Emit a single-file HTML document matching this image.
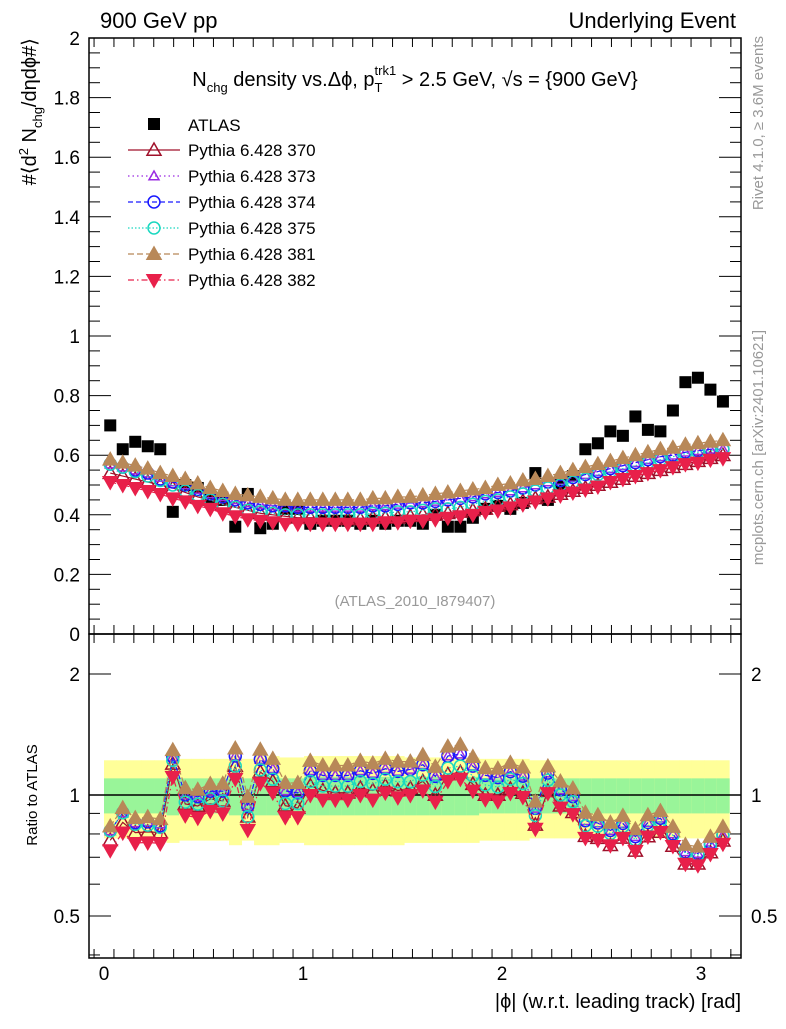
<!DOCTYPE html>
<html><head><meta charset="utf-8"><style>
body{margin:0;background:#fff;font-family:"Liberation Sans","DejaVu Sans",sans-serif;}
svg text{font-family:"Liberation Sans","DejaVu Sans",sans-serif;}
</style></head><body>
<svg id="c" width="786" height="1024" xmlns="http://www.w3.org/2000/svg"></svg>
<script>
const atlas=[0.70,0.62,0.645,0.63,0.62,0.41,0.50,0.49,0.46,0.45,0.36,0.47,0.355,0.37,0.42,0.42,0.37,0.38,0.38,0.38,0.37,0.38,0.37,0.38,0.38,0.37,0.40,0.36,0.36,0.39,0.42,0.43,0.42,0.44,0.54,0.45,0.50,0.53,0.62,0.64,0.68,0.665,0.73,0.685,0.68,0.75,0.845,0.86,0.82,0.78];
const statErr=[0.10,0.10,0.10,0.10,0.10,0.11,0.10,0.10,0.10,0.10,0.11,0.10,0.11,0.11,0.10,0.10,0.11,0.11,0.11,0.11,0.11,0.11,0.11,0.11,0.11,0.11,0.11,0.11,0.11,0.11,0.10,0.10,0.10,0.10,0.10,0.10,0.10,0.10,0.10,0.10,0.10,0.10,0.10,0.10,0.10,0.10,0.10,0.10,0.10,0.10];
const totErr=[0.22,0.22,0.22,0.22,0.22,0.24,0.23,0.23,0.23,0.23,0.25,0.23,0.25,0.25,0.24,0.24,0.25,0.25,0.25,0.25,0.25,0.25,0.25,0.25,0.24,0.24,0.24,0.24,0.24,0.24,0.23,0.23,0.23,0.23,0.22,0.22,0.22,0.22,0.22,0.22,0.22,0.22,0.22,0.22,0.22,0.22,0.22,0.22,0.22,0.22];
const p370=[0.54,0.53,0.52,0.51,0.50,0.49,0.475,0.46,0.45,0.435,0.425,0.415,0.405,0.40,0.395,0.39,0.39,0.39,0.385,0.385,0.385,0.39,0.39,0.39,0.395,0.40,0.40,0.405,0.41,0.415,0.42,0.43,0.435,0.445,0.455,0.46,0.47,0.48,0.49,0.50,0.51,0.52,0.53,0.54,0.55,0.56,0.57,0.58,0.59,0.60];
const p373=[0.57,0.56,0.55,0.54,0.525,0.51,0.50,0.485,0.47,0.46,0.45,0.44,0.435,0.43,0.43,0.425,0.425,0.425,0.425,0.425,0.425,0.43,0.43,0.435,0.44,0.44,0.445,0.45,0.455,0.46,0.47,0.475,0.48,0.49,0.50,0.51,0.515,0.525,0.535,0.545,0.555,0.565,0.575,0.585,0.595,0.60,0.61,0.615,0.62,0.62];
const p374=[0.57,0.56,0.55,0.54,0.52,0.51,0.50,0.485,0.47,0.46,0.45,0.44,0.435,0.43,0.43,0.425,0.425,0.425,0.425,0.425,0.425,0.43,0.43,0.435,0.44,0.44,0.445,0.45,0.455,0.46,0.47,0.475,0.48,0.49,0.50,0.51,0.515,0.525,0.535,0.545,0.555,0.565,0.575,0.585,0.595,0.60,0.61,0.615,0.62,0.62];
const p375=[0.57,0.56,0.545,0.53,0.515,0.50,0.48,0.465,0.45,0.435,0.425,0.415,0.41,0.405,0.40,0.40,0.40,0.40,0.40,0.40,0.40,0.405,0.405,0.41,0.41,0.415,0.42,0.42,0.425,0.435,0.445,0.45,0.46,0.47,0.48,0.49,0.50,0.51,0.52,0.535,0.545,0.555,0.565,0.575,0.585,0.595,0.605,0.61,0.615,0.62];
const p381=[0.585,0.575,0.565,0.555,0.54,0.53,0.52,0.505,0.49,0.48,0.47,0.465,0.46,0.455,0.45,0.45,0.45,0.45,0.45,0.45,0.45,0.455,0.455,0.46,0.46,0.465,0.47,0.475,0.48,0.485,0.49,0.50,0.505,0.515,0.52,0.53,0.54,0.55,0.56,0.57,0.58,0.59,0.60,0.61,0.62,0.625,0.635,0.64,0.645,0.65];
const p382=[0.51,0.50,0.49,0.48,0.47,0.455,0.445,0.43,0.42,0.405,0.395,0.385,0.38,0.375,0.37,0.37,0.37,0.37,0.37,0.37,0.37,0.37,0.375,0.375,0.38,0.38,0.385,0.39,0.395,0.40,0.41,0.415,0.425,0.435,0.445,0.455,0.465,0.475,0.485,0.495,0.51,0.52,0.53,0.54,0.55,0.56,0.57,0.575,0.585,0.59];
const yTicksMain=[0,0.2,0.4,0.6,0.8,1,1.2,1.4,1.6,1.8,2];
const yTickLabelsMain=["0","0.2","0.4","0.6","0.8","1","1.2","1.4","1.6","1.8","2"];
const xTicks=[0,1,2,3];
const ratioTicks=[0.5,1,2];

const NS="http://www.w3.org/2000/svg";
const svg=document.getElementById('c');
const L=89,R=741,T=38,MB=634,RB=958;
const X=v=>104+v*199;
const Y=v=>634-v*298;
const YR=r=>795-Math.log2(r)*121;
function mk(tag,attrs,parent){const e=document.createElementNS(NS,tag);for(const k in attrs)e.setAttribute(k,attrs[k]);(parent||svg).appendChild(e);return e;}
function txt(s,x,y,size,anchor,fill,parent){const t=mk('text',{x:x,y:y,'font-size':size,'text-anchor':anchor||'start',fill:fill||'#000'},parent);t.textContent=s;return t;}
const n=atlas.length,w=Math.PI/n;
const xc=i=>(i+0.5)*w;

// ratio bands
const bands=mk('g',{});


for(let i=0;i<n;i++){
  const r1=mk('rect',{x:X(i*w),y:YR(1+totErr[i]),width:X((i+1)*w)-X(i*w)+0.5,height:YR(1-totErr[i])-YR(1+totErr[i]),fill:'#ffff99'},bands);
  
  
  const r2=mk('rect',{x:X(i*w),y:YR(1+statErr[i]),width:X((i+1)*w)-X(i*w)+0.5,height:YR(1-statErr[i])-YR(1+statErr[i]),fill:'#99f599'},bands);
  
  
}
mk('line',{x1:L,x2:R,y1:YR(1),y2:YR(1),stroke:'#000','stroke-width':1.5});

// frames
const f1=mk('rect',{x:L,y:T,width:R-L,height:MB-T,fill:'none',stroke:'#000','stroke-width':1.5});


const f2=mk('rect',{x:L,y:MB,width:R-L,height:RB-MB,fill:'none',stroke:'#000','stroke-width':1.5});



// main y ticks
for(let v=0;v<=2.0001;v+=0.05){const y=Y(v);const major=Math.abs(v*5-Math.round(v*5))<1e-6;const len=major?22:11;
  mk('line',{x1:L,x2:L+len,y1:y,y2:y,stroke:'#000'});mk('line',{x1:R,x2:R-len,y1:y,y2:y,stroke:'#000'});}
yTicksMain.forEach((v,i)=>{const t=txt(yTickLabelsMain[i],80,Y(v)+7,19,'end');
  
  });
[0.4,0.5,0.6,0.7,0.8,0.9,1,2].forEach(v=>{const y=YR(v);const major=(v===0.5||v===1||v===2);const len=major?22:11;
  mk('line',{x1:L,x2:L+len,y1:y,y2:y,stroke:'#000'});mk('line',{x1:R,x2:R-len,y1:y,y2:y,stroke:'#000'});});
ratioTicks.forEach(v=>{
  const a=txt(String(v),80,YR(v)+7,19,'end');
  
  
  const b=txt(String(v),751,YR(v)+7,19,'start');
  
  });
for(let v=-0.05;v<=3.2;v+=0.1){const vv=Math.round(v*100)/100;if(X(vv)<L||X(vv)>R)continue;const major=Math.abs(vv-Math.round(vv))<1e-6;const len=major?18:9;
  [[T,1],[MB,-1],[MB,1],[RB,-1]].forEach(([y0,d])=>mk('line',{x1:X(vv),x2:X(vv),y1:y0,y2:y0+d*len,stroke:'#000'}));}
xTicks.forEach(v=>{const t=txt(String(v),X(v),980,19,'middle');
  
  });

// ATLAS data (drawn first, behind MC)
const ga=mk('g',{});


atlas.forEach((v,i)=>{
  const p=mk('rect',{x:X(xc(i))-6,y:Y(v)-6,width:12,height:12,fill:'#000'},ga);
  
  
});

const series=[
 {d:p370,c:'#a0102a',m:'tri',fill:false,dash:'',name:'pythia-370'},
 {d:p373,c:'#9a2be2',m:'tri',fill:false,dash:'1.5,3',name:'pythia-373',small:true},
 {d:p374,c:'#1a1aff',m:'circ',fill:false,dash:'5,3',name:'pythia-374'},
 {d:p375,c:'#1ad8c0',m:'circ',fill:false,dash:'1.5,2',name:'pythia-375'},
 {d:p381,c:'#b88858',m:'tri',fill:true,dash:'6,3',name:'pythia-381'},
 {d:p382,c:'#e8204a',m:'itri',fill:true,dash:'6,3,1.5,3',name:'pythia-382'}];
function marker(g,m,x,y,c,fill,s){
  let e;
  if(m==='tri')e=mk('polygon',{points:`${x},${y-s} ${x-s},${y+s*0.75} ${x+s},${y+s*0.75}`},g);
  else if(m==='itri')e=mk('polygon',{points:`${x},${y+s} ${x-s},${y-s*0.75} ${x+s},${y-s*0.75}`},g);
  else if(m==='circ')e=mk('circle',{cx:x,cy:y,r:s*0.85},g);
  else e=mk('rect',{x:x-s,y:y-s,width:2*s,height:2*s},g);
  e.setAttribute('fill',fill?c:'none');e.setAttribute('stroke',c);e.setAttribute('stroke-width',1.5);
  return e;
}
series.forEach(s=>{
  const g=mk('g',{});
  
  
  const sz=s.small?5:7;
  const pts=s.d.map((v,i)=>`${X(xc(i))},${Y(v)}`).join(' ');
  mk('polyline',{points:pts,fill:'none',stroke:s.c,'stroke-width':1.2,'stroke-dasharray':s.dash},g);
  const rp=s.d.map((v,i)=>`${X(xc(i))},${YR(v/atlas[i])}`).join(' ');
  mk('polyline',{points:rp,fill:'none',stroke:s.c,'stroke-width':1.2,'stroke-dasharray':s.dash},g);
  s.d.forEach((v,i)=>{
    const p=marker(g,s.m,X(xc(i)),Y(v),s.c,s.fill,sz);
    
    
    const q=marker(g,s.m,X(xc(i)),YR(v/atlas[i]),s.c,s.fill,sz);
    
    
  });
});

// legend
const lg=mk('g',{});


mk('rect',{x:148,y:118,width:12,height:12,fill:'#000'},lg);
txt('ATLAS',188,131,17,'start','#000',lg);
const names=['Pythia 6.428 370','Pythia 6.428 373','Pythia 6.428 374','Pythia 6.428 375','Pythia 6.428 381','Pythia 6.428 382'];
series.forEach((s,k)=>{const y=150+k*26;
  mk('line',{x1:128,x2:180,y1:y,y2:y,stroke:s.c,'stroke-width':1.2,'stroke-dasharray':s.dash},lg);
  marker(lg,s.m,154,y,s.c,s.fill,s.small?5:7);
  const t=txt(names[k],188,y+6,17,'start','#000',lg);
  
  
});

let t;
t=txt('900 GeV pp',100,28,22,'start');
t=txt('Underlying Event',736,28,22,'end');
t=mk('text',{x:415,y:86,'font-size':20,'text-anchor':'middle'});
t.innerHTML='N<tspan font-size="13" dy="6">chg</tspan><tspan dy="-6"> density vs.Δϕ, p</tspan><tspan font-size="13" dy="6">T</tspan><tspan font-size="13" dx="-8" dy="-17">trk1</tspan><tspan dy="11"> &gt; 2.5 GeV, √s = {900 GeV}</tspan>';

t=txt('(ATLAS_2010_I879407)',415,606,15,'middle','#999');
t=mk('text',{x:0,y:0,'font-size':20,'text-anchor':'end',transform:'translate(36,38) rotate(-90)'});
t.innerHTML='#⟨d<tspan font-size="13" dy="-8">2</tspan><tspan dy="8"> N</tspan><tspan font-size="13" dy="6">chg</tspan><tspan dy="-6">/dηdϕ#⟩</tspan>';

t=mk('text',{x:0,y:0,'font-size':15,'text-anchor':'middle',transform:'translate(37,795) rotate(-90)'});t.textContent='Ratio to ATLAS';

t=mk('text',{x:0,y:0,'font-size':15,'text-anchor':'end',fill:'#999',transform:'translate(763,36) rotate(-90)'});t.textContent='Rivet 4.1.0, ≥ 3.6M events';

t=mk('text',{x:0,y:0,'font-size':15,'text-anchor':'end',fill:'#999',transform:'translate(763,330) rotate(-90)'});t.textContent='mcplots.cern.ch [arXiv:2401.10621]';

t=txt('|ϕ| (w.r.t. leading track) [rad]',741,1008,20,'end');
</script>
</body></html>
